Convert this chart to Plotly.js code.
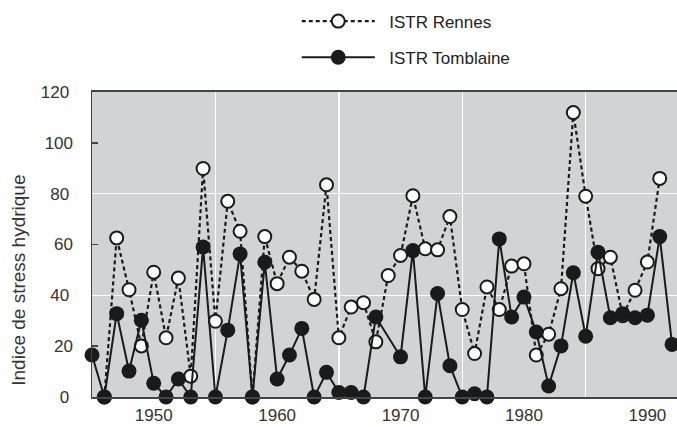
<!DOCTYPE html>
<html>
<head>
<meta charset="utf-8">
<script src="https://cdn.plot.ly/plotly-3.0.1.min.js"></script>
<style>html,body{margin:0;padding:0;background:#fff;}#chart{width:677px;height:427px;}</style>
</head>
<body>
<div id="chart"></div>
<script>
// Years on the x axis
const years = [1945,1946,1947,1948,1949,1950,1951,1952,1953,1954,1955,1956,1957,1958,1959,1960,
  1961,1962,1963,1964,1965,1966,1967,1968,1969,1970,1971,1972,1973,1974,1975,1976,1977,1978,
  1979,1980,1981,1982,1983,1984,1985,1986,1987,1988,1989,1990,1991,1992];

// ISTR Rennes (null = no value)
const rennes = [null,0,62.6,42.2,20.1,49.1,23.3,46.8,8.2,89.9,29.8,77,65.2,0,63.1,44.6,
  55,49.5,38.4,83.5,23.3,35.4,37.1,21.7,47.8,55.7,79.2,58.3,57.9,71,34.4,17.1,43.3,34.4,
  51.5,52.4,16.5,24.7,42.6,111.9,79,50.5,55,32,42,53.1,86,null];

// ISTR Tomblaine (null = no value)
const tomblaine = [16.5,0,32.8,10.2,30.2,5.4,0,7.1,0,59,0,26.3,56.3,0,53,7.1,
  16.5,27,0,9.7,1.8,1.8,0,31.5,null,15.8,57.6,0,40.7,12.3,0,1.3,0,62.2,
  31.5,39.3,25.6,4.3,20.1,48.9,23.9,57,31.2,32.8,31.2,32.2,63.1,20.7];

const seriesNames = ['ISTR Rennes', 'ISTR Tomblaine'];
const yTitle = 'Indice de stress hydrique';

const ink = '#1a1a1a';
const pad = '\u00a0\u00a0';
const traces = [
  {
    x: years, y: rennes, name: pad + seriesNames[0], type: 'scatter', mode: 'lines+markers',
    connectgaps: false, cliponaxis: false, legendgroup: 'a',
    line: {color: ink, width: 2.2, dash: '4px,3px'},
    marker: {symbol: 'circle', size: 13, color: '#ffffff', line: {color: ink, width: 2}},
    xaxis: 'x', yaxis: 'y'
  },
  {
    x: years, y: tomblaine, name: pad + seriesNames[1], type: 'scatter', mode: 'lines+markers',
    connectgaps: true, cliponaxis: false, legendgroup: 'b',
    line: {color: ink, width: 2},
    marker: {symbol: 'circle', size: 15, color: ink},
    xaxis: 'x', yaxis: 'y2'
  }
];

const tickFont = {family: 'Liberation Sans, Arial, sans-serif', size: 17, color: '#333'};

const layout = {
  width: 677, height: 427,
  margin: {l: 92, r: 0, t: 92, b: 30, pad: 0},
  paper_bgcolor: '#ffffff', plot_bgcolor: '#d1d3d4',
  font: {family: 'Liberation Sans, Arial, sans-serif', size: 17, color: '#333'},
  showlegend: true,
  legend: {
    x: 0.35, xanchor: 'left', y: 1.29, yanchor: 'top',
    itemwidth: 73, tracegroupgap: 11, traceorder: 'grouped',
    bgcolor: 'rgba(0,0,0,0)', borderwidth: 0,
    font: {family: 'Liberation Sans, Arial, sans-serif', size: 17, color: '#222'}
  },
  xaxis: {
    range: [1945, 1992.4], tick0: 1950, dtick: 10, ticks: '', showgrid: false,
    zeroline: false, showline: true, linecolor: '#444', linewidth: 2, mirror: true,
    ticklabelstandoff: 2, tickfont: tickFont,
    minor: {tick0: 1955, dtick: 10, showgrid: true, gridcolor: '#ffffff', gridwidth: 1.5, ticks: ''}
  },
  yaxis: {
    range: [0, 120], tick0: 0, dtick: 40, showgrid: true, gridcolor: '#ffffff', gridwidth: 1.5,
    zeroline: false, showline: true, linecolor: '#444', linewidth: 1.5, ticks: '',
    ticklabelstandoff: 18, tickfont: tickFont,
    minor: {tick0: 0, dtick: 20, ticks: 'inside', ticklen: 6, tickcolor: '#444', tickwidth: 1.5, showgrid: false}
  },
  yaxis2: {
    overlaying: 'y', side: 'left', range: [0, 120], tick0: 20, dtick: 40,
    showgrid: false, zeroline: false, ticks: '', showline: false,
    ticklabelstandoff: 18, tickfont: tickFont
  },
  annotations: [{
    text: yTitle, textangle: -90, xref: 'paper', yref: 'paper',
    x: -0.125, y: 0.384, xanchor: 'center', yanchor: 'middle', showarrow: false,
    font: {family: 'Liberation Sans, Arial, sans-serif', size: 19, color: '#333'}
  }]
};

Plotly.newPlot('chart', traces, layout, {displayModeBar: false, staticPlot: true});
</script>
</body>
</html>
